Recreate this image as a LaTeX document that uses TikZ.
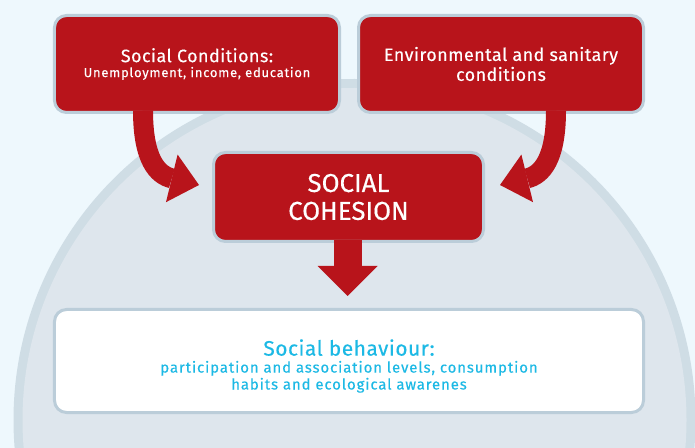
\documentclass[tikz,border=0pt]{standalone}
\usepackage{fontspec}
\setmainfont{Fira Sans}
\newfontfamily\bigfont{Fira Sans}[FakeBold=0.3]
\newfontfamily\headfont{Fira Sans}[FakeBold=0.3, LetterSpace=2.5]
\newfontfamily\smallfont{Fira Sans}[FakeBold=0.3, LetterSpace=6]
\usetikzlibrary{arrows.meta,calc}

\definecolor{pagebg}{HTML}{EEF8FD}
\definecolor{archband}{HTML}{CFDDE5}
\definecolor{archfill}{HTML}{DEE6ED}
\definecolor{boxline}{HTML}{BBCDD9}
\definecolor{cred}{HTML}{B8141B}
\definecolor{ccyan}{HTML}{1CB9E5}

\tikzset{
  redbox/.style={draw=boxline, line width=3bp, fill=cred, rounded corners=12bp,
    text=white, align=center, inner sep=0pt},
  whitebox/.style={draw=boxline, line width=3bp, fill=white, rounded corners=12bp,
    inner sep=0pt},
  curvedarrow/.style={draw=cred, line width=20bp,
    -{Triangle[width=49bp,length=28bp,line width=0pt]}},
  downarrow/.style={draw=cred, line width=28bp,
    -{Triangle[width=60bp,length=30bp,line width=0pt]}},
}

\begin{document}
\begin{tikzpicture}[x=1bp,y=-1bp]
  \useasboundingbox (0,0) rectangle (695,448);
  \fill[pagebg] (0,0) rectangle (695,448);

  % large dome behind the diagram
  \begin{scope}
    \clip (0,0) rectangle (695,448);
    \fill[archband] (354.5,420) circle[radius=341];
    \fill[archfill] (354.5,420) circle[radius=332];
  \end{scope}

  % boxes
  \node[redbox, minimum width=285bp, minimum height=97bp,
        font=\smallfont\fontsize{13}{15}\selectfont] (social) at (197,64)
    {{\headfont\fontsize{18}{20}\selectfont Social Conditions:}\\
     Unemployment, income, education};
  \node[redbox, minimum width=285bp, minimum height=97bp,
        font=\headfont\fontsize{18}{20}\selectfont] (env) at (501,64)
    {Environmental and sanitary\\conditions};
  \node[redbox, minimum width=270bp, minimum height=89bp,
        font=\bigfont\fontsize{26}{28}\selectfont] (cohesion) at (348.5,197)
    {SOCIAL\\COHESION};
  \node[whitebox, minimum width=589bp, minimum height=103bp] (behaviour) at (349,361) {};
  \node[text=ccyan, align=center, inner sep=0pt,
        font=\smallfont\fontsize{15}{17}\selectfont]
    (behaviourtext) at ([yshift=-5bp]behaviour.center)
    {{\headfont\fontsize{21}{22}\selectfont Social behaviour:}\\
     participation and association levels, consumption\\
     habits and ecological awarenes};

  % arrows
  \coordinate (tipL) at (199,185);
  \coordinate (tipR) at (500,185);
  \coordinate (tipD) at (347.5,296);
  \coordinate (startL) at ([xshift=-54bp,yshift=3.5bp]social.south);
  \coordinate (startR) at ([xshift=55bp,yshift=3.5bp]env.south);

  \draw[curvedarrow] (startL) .. controls ($(startL)+(0,50)$) and ($(tipL)+(-41,-10)$) .. (tipL);
  \draw[curvedarrow] (startR) .. controls ($(startR)+(0,50)$) and ($(tipR)+(41,-10)$) .. (tipR);
  \draw[downarrow] ([xshift=-1bp,yshift=3bp]cohesion.south) -- (tipD);
\end{tikzpicture}
\end{document}
